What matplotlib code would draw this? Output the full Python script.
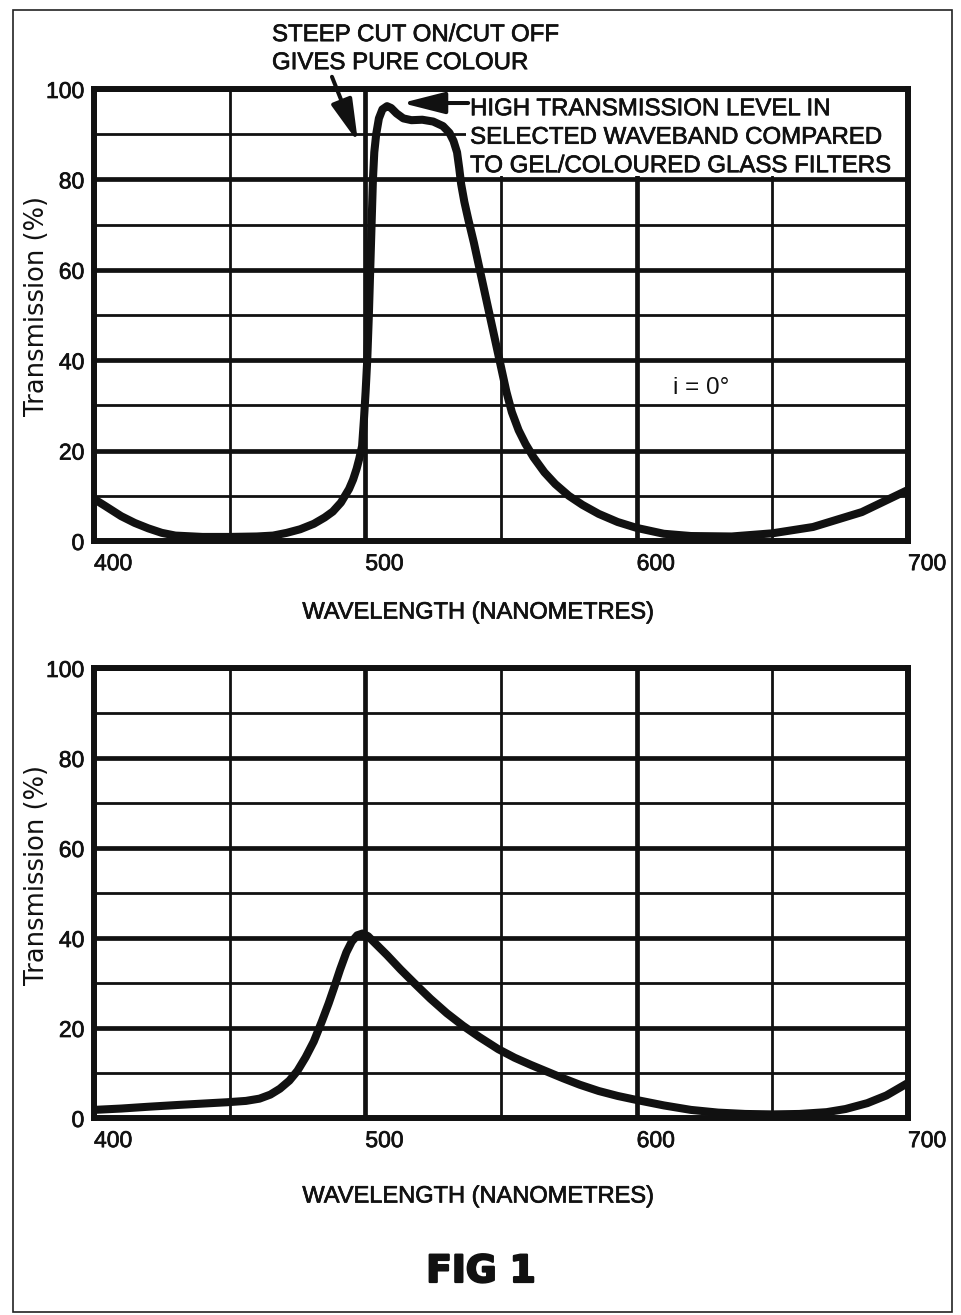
import matplotlib
matplotlib.use('Agg')
import matplotlib.pyplot as plt
import matplotlib.patheffects as pe
from matplotlib.ticker import MultipleLocator
from matplotlib.patches import Rectangle

plt.rcParams['font.family'] = ['Liberation Sans', 'DejaVu Sans']

# curves (wavelength nm, transmission %)
wl_top = [400, 404, 410, 415, 420, 425, 430, 440, 450, 460, 466, 471, 476,
          481, 485, 488, 491, 494, 495.5, 496.8, 497.8, 498.8, 499.5, 500.1,
          500.7, 501.3, 501.8, 502.3, 502.8, 503.3, 504, 505, 506.3, 508,
          509.5, 511.5, 514, 517, 521, 525, 528.6, 531, 532.5, 533.8, 534.6,
          535.3, 536.5, 538, 540, 542, 544, 546, 548, 550, 552, 554, 556.5,
          559, 562, 566, 570, 575, 580, 586, 593, 600, 610, 620, 635, 650,
          665, 683, 700]
tr_top = [9.3, 7.8, 5.5, 4.0, 2.8, 1.8, 1.2, 0.9, 0.9, 1.0, 1.2, 1.8, 2.6,
          3.8, 5.2, 6.5, 8.5, 11.5, 13.6, 16.0, 18.3, 21.0, 27.0, 33.0,
          40.0, 50.0, 60.0, 70.0, 80.0, 86.0, 90.0, 93.5, 95.5, 96.2,
          95.8, 94.6, 93.5, 93.1, 93.2, 92.8, 91.8, 90.3, 88.5, 86.0, 82.5,
          79.0, 75.0, 71.0, 66.0, 60.5, 55.0, 49.5, 44.0, 38.5, 33.0, 28.5,
          24.5, 21.5, 18.5, 15.2, 12.6, 10.0, 8.0, 6.0, 4.2, 2.9, 1.6, 1.1,
          1.0, 1.7, 3.1, 6.4, 11.3]

wl_bot = [400, 410, 420, 431, 440, 449, 456, 461, 465, 468.5, 472, 475, 478,
          481, 484, 486.5, 488.5, 490.7, 493, 495, 497, 499, 501, 504, 508,
          513, 518, 524, 530, 536, 542, 549, 555, 561, 567, 573, 579, 586,
          593, 600, 610, 620, 630, 640, 650, 660, 670, 677, 685, 692, 700]
tr_bot = [1.8, 2.1, 2.5, 2.9, 3.2, 3.5, 3.8, 4.3, 5.2, 6.5, 8.3, 10.5, 13.5,
          17.0, 21.5, 25.5, 29.0, 33.0, 36.8, 39.2, 40.6, 41.0, 40.4, 38.6,
          36.2, 33.0, 30.0, 26.5, 23.3, 20.5, 18.0, 15.3, 13.4, 11.8, 10.3,
          8.8, 7.4, 6.0, 4.9, 4.0, 2.8, 1.8, 1.2, 0.9, 0.8, 0.9, 1.3, 2.0,
          3.3, 5.0, 7.8]

x_ticks = [400, 500, 600, 700]
y_ticks = [0, 20, 40, 60, 80, 100]
x_label = 'WAVELENGTH (NANOMETRES)'
y_label = 'Transmission (%)'
note_steep = ['STEEP CUT ON/CUT OFF', 'GIVES PURE COLOUR']
note_high = ['HIGH TRANSMISSION LEVEL IN', 'SELECTED WAVEBAND COMPARED',
             'TO GEL/COLOURED GLASS FILTERS']

W, H = 961, 1315
INK = '#111111'
heavy = [pe.withStroke(linewidth=0.5, foreground=INK)]
fig = plt.figure(figsize=(W / 100, H / 100), dpi=100)


def px_box(l, t, r, b):
    return [l / W, 1 - b / H, (r - l) / W, (b - t) / H]


def style(ax, xlab_y, ylab_y):
    ax.set_xlim(400, 700)
    ax.set_ylim(0, 100)
    ax.set_xticks(x_ticks)
    ax.set_yticks(y_ticks)
    ax.xaxis.set_minor_locator(MultipleLocator(50))
    ax.yaxis.set_minor_locator(MultipleLocator(10))
    ax.grid(which='major', color=INK, lw=3.4)
    ax.grid(which='minor', color=INK, lw=2.0)
    ax.set_axisbelow(True)
    ax.tick_params(which='both', length=0, labelcolor=INK)
    ax.tick_params(axis='x', pad=8, labelsize=16.5)
    ax.tick_params(axis='y', pad=7, labelsize=16.5)
    for lab in ax.get_xticklabels():
        lab.set_ha('left')
    for lab in ax.get_xticklabels() + ax.get_yticklabels():
        lab.set_path_effects(heavy)
    for s in ax.spines.values():
        s.set_linewidth(4.3)
        s.set_color(INK)
    ax.set_xlabel(x_label, fontsize=17, va='top', color=INK,
                  path_effects=heavy)
    ax.xaxis.set_label_coords(0.4717, xlab_y)
    ax.set_ylabel(y_label, fontsize=18.5, family='DejaVu Sans', va='center',
                  color=INK)
    ax.yaxis.set_label_coords(-0.07, ylab_y)


ax1 = fig.add_axes(px_box(94, 89, 908, 541))
ax2 = fig.add_axes(px_box(94, 668, 908, 1118))
style(ax1, -0.134, 0.52)
style(ax2, -0.150, 0.54)

ax1.plot(wl_top, tr_top, color=INK, lw=5.8, zorder=3,
         solid_joinstyle='round', solid_capstyle='round')
ax2.plot(wl_bot, tr_bot, color=INK, lw=5.8, zorder=3,
         solid_joinstyle='round', solid_capstyle='round')

# white panel behind the right-hand note (hides the grid there)
ax1.add_patch(Rectangle((537.2, 80.7), 162.8, 19.3, facecolor='white',
                        edgecolor='none', zorder=1))

for txt, yb in zip(note_steep, [110.6, 104.4]):
    ax1.text(465.6, yb, txt, fontsize=17.3, ha='left', va='baseline',
             color=INK, path_effects=heavy, clip_on=False)
for txt, yb in zip(note_high, [94.2, 87.9, 81.6]):
    ax1.text(538.6, yb, txt, fontsize=17.3, ha='left', va='baseline',
             color=INK, path_effects=heavy, zorder=4)

arrow = dict(arrowstyle='-|>,head_length=1.3,head_width=0.33',
             lw=2.9, color=INK, mutation_scale=20, shrinkA=0, shrinkB=0)
ax1.annotate('', xy=(497.3, 88.2), xytext=(487.7, 102.7), arrowprops=arrow,
             annotation_clip=False)
ax1.annotate('', xy=(513.5, 96.9), xytext=(537.9, 96.9), arrowprops=arrow)

ax1.text(613.4, 32.6, 'i = 0°', fontsize=17.5, ha='left', va='baseline',
         color=INK)

fig.text(481 / W, 1 - 1272 / H, 'FIG 1', family='DejaVu Sans',
         weight='heavy', fontsize=27, ha='center', va='center', color=INK,
         path_effects=[pe.withStroke(linewidth=1.6, foreground=INK)])

# outer frame of the scanned page
fig.add_artist(Rectangle((13 / W, 1 - 1312 / H), (952 - 13) / W,
                         (1312 - 10) / H, transform=fig.transFigure,
                         fill=False, lw=1.2, ec='#222222'))

fig.savefig('out.png', dpi=100)
